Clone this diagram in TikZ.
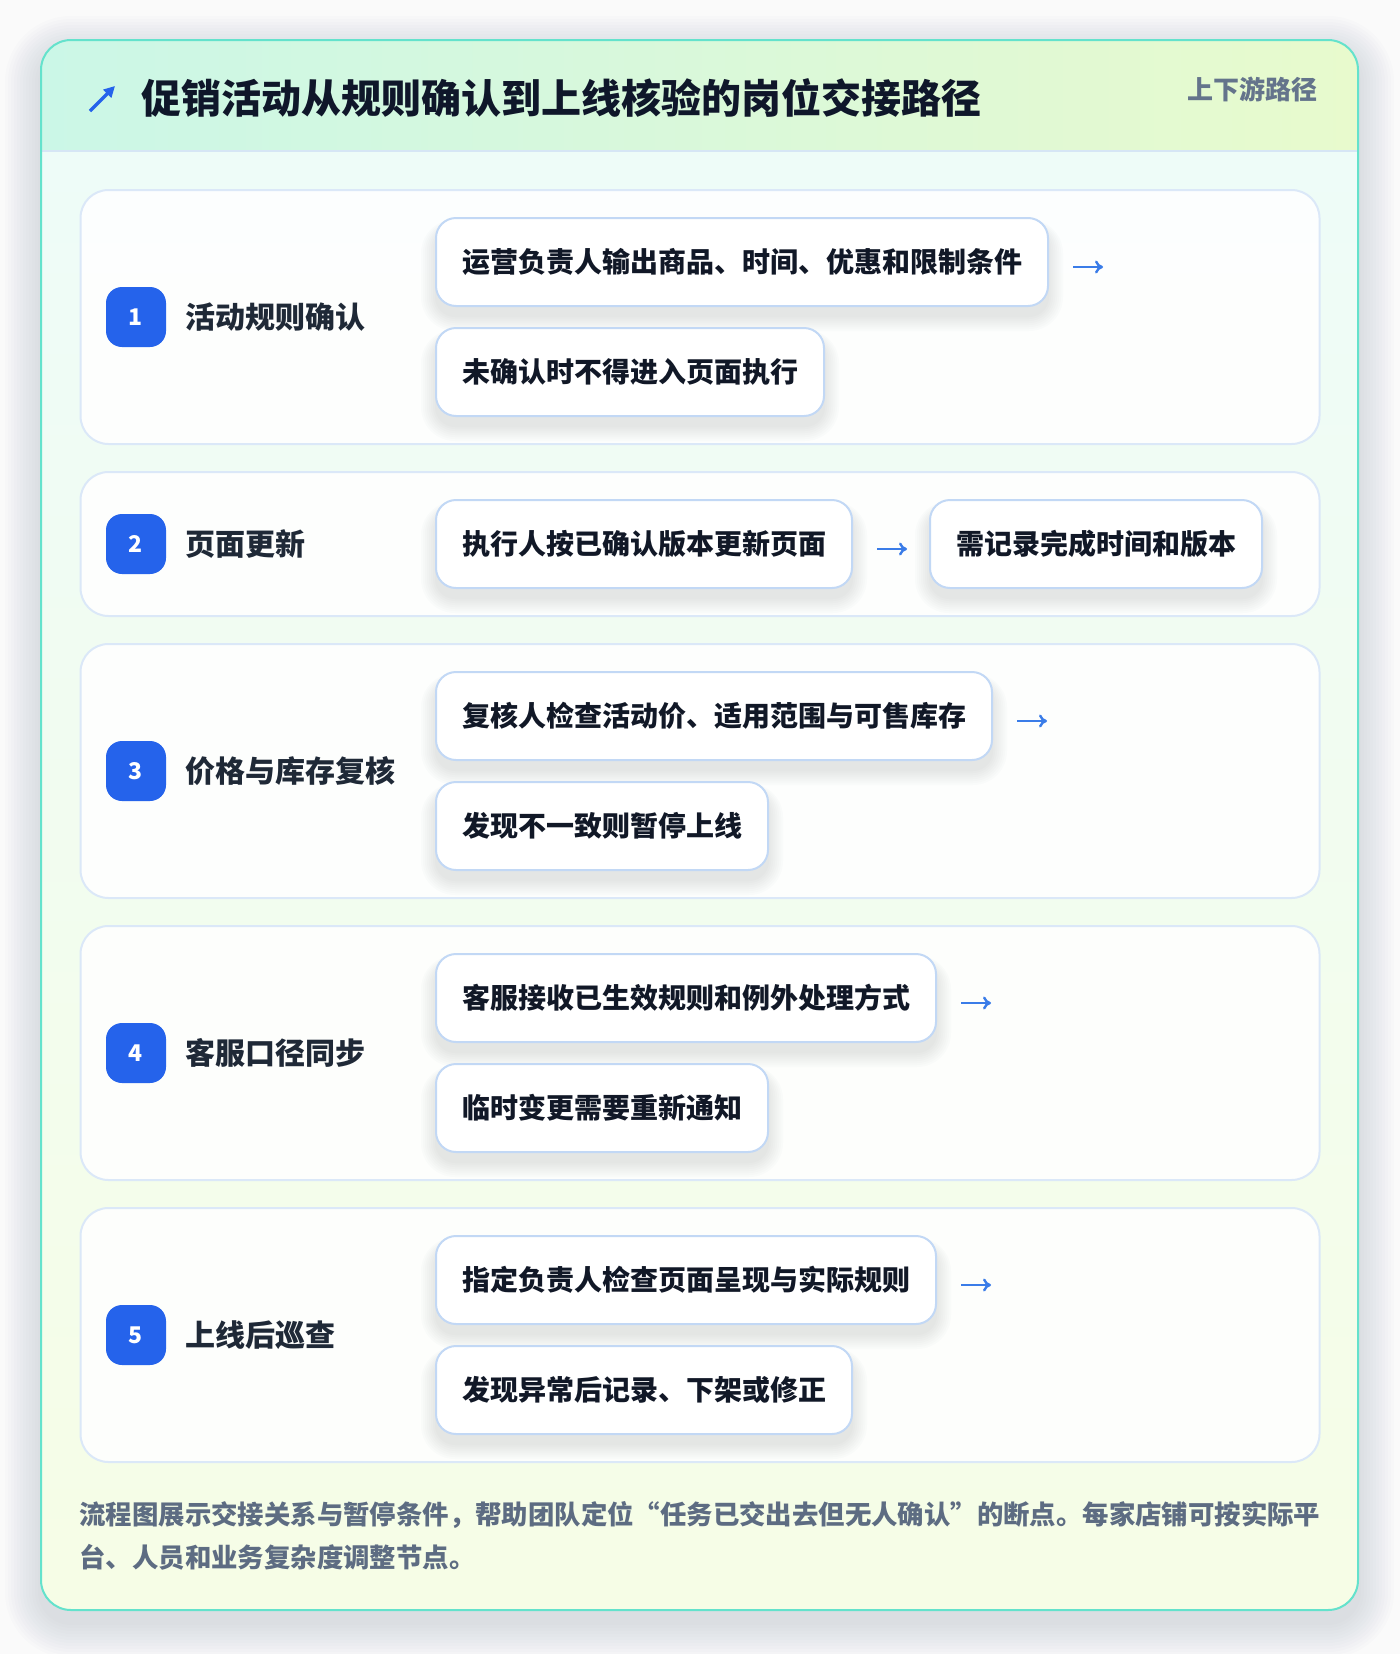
\documentclass[tikz,border=0pt]{standalone}
\usepackage{fontspec}
\setmainfont{Noto Sans CJK SC}
\usetikzlibrary{arrows.meta,calc}
\pgfdeclarelayer{bg}
\pgfdeclarelayer{shd}
\pgfsetlayers{bg,shd,main}
\definecolor{pagebg}{RGB}{250,250,250}
\definecolor{cardborder}{RGB}{100,226,204}
\definecolor{headerleft}{RGB}{203,247,231}
\definecolor{headerright}{RGB}{232,250,205}
\definecolor{headerline}{RGB}{214,230,245}
\definecolor{bodytop}{RGB}{238,252,248}
\definecolor{bodybottom}{RGB}{246,253,230}
\definecolor{titletext}{RGB}{15,23,42}
\definecolor{darktext}{RGB}{17,24,39}
\definecolor{labeltext}{RGB}{31,41,55}
\definecolor{subtext}{RGB}{100,116,139}
\definecolor{foottext}{RGB}{93,108,130}
\definecolor{badgeblue}{RGB}{37,99,235}
\definecolor{arrowblue}{RGB}{58,124,232}
\definecolor{stepborder}{RGB}{219,232,248}
\definecolor{itemborder}{RGB}{194,216,245}
\definecolor{shadowc}{RGB}{60,70,90}
\tikzset{
  stepbox/.style={draw=stepborder, line width=1pt, rounded corners=14pt, fill=white, fill opacity=0.88, minimum width=619.5pt, inner sep=0pt},
  badge/.style={fill=badgeblue, rounded corners=8pt, minimum width=30pt, minimum height=30pt, inner sep=0pt, text=white, font=\fontsize{11.5pt}{13pt}\selectfont\bfseries},
  steplabel/.style={anchor=west, inner sep=0pt, text=labeltext, font=\fontsize{15pt}{17pt}\selectfont\bfseries},
  itembox/.style={anchor=west, draw=itemborder, line width=1pt, rounded corners=10pt, fill=white, minimum height=44pt, inner xsep=13pt, inner ysep=0pt, text=darktext, font=\fontsize{14pt}{16pt}\selectfont\bfseries},
  flowarrow/.style={draw=arrowblue, line width=1.2pt, -{To[length=4pt,width=6.5pt]}},
  foot/.style={anchor=west, inner sep=0pt, text=foottext, font=\fontsize{13.2pt}{15pt}\selectfont\bfseries},
}
\newcommand\itemshadow[1]{%
  \begin{pgfonlayer}{shd}
  \foreach \k in {1,...,8}{%
    \pgfmathsetmacro\rr{9+\k}%
    \pgfmathsetmacro\dd{\k-1}%
    \pgfmathsetmacro\yb{-5-\k+1}%
    \pgfmathsetmacro\yt{-6+\k*0.6}%
    \fill[shadowc, opacity=0.016, rounded corners=\rr pt] ([xshift=-\dd pt, yshift=\yb pt]#1.south west) rectangle ([xshift=\dd pt, yshift=\yt pt]#1.north east);
  }
  \end{pgfonlayer}}
\begin{document}
\begin{tikzpicture}[x=0.5pt,y=-0.5pt]
\useasboundingbox (0,0) rectangle (1400,1654);
\begin{pgfonlayer}{bg}
\fill[pagebg] (0,0) rectangle (1400,1654);
% card shadow
\foreach \k in {1,...,12}{%
  \pgfmathsetmacro\rr{15+\k*1.5}%
  \pgfmathsetmacro\dd{\k*1.5}%
  \fill[shadowc, opacity=0.012, rounded corners=\rr pt] ([xshift=-\dd pt, yshift=-\dd pt-6pt]41pt*0.5+0pt,-1610pt*0.5+0pt) rectangle ([xshift=\dd pt, yshift=\dd pt-6pt]679pt,-20pt);
}
% card
\begin{scope}
  \clip[rounded corners=15pt] (41,40) rectangle (1358,1610);
  \shade[top color=bodytop, bottom color=bodybottom] (41,151) rectangle (1358,1610);
  \shade[left color=headerleft, right color=headerright] (41,40) rectangle (1358,151);
  \draw[headerline, line width=1pt] (41,151) -- (1358,151);
\end{scope}
\draw[cardborder, line width=1pt, rounded corners=15pt] (41,40) rectangle (1358,1610);
% step boxes
\node[stepbox, minimum height=127pt] (s1) at (700,317) {};
\node[stepbox, minimum height=72pt] (s2) at (700,544) {};
\node[stepbox, minimum height=127pt] (s3) at (700,771) {};
\node[stepbox, minimum height=127pt] (s4) at (700,1053) {};
\node[stepbox, minimum height=127pt] (s5) at (700,1335) {};
\end{pgfonlayer}
% header
\coordinate (ta) at (90,111);
\coordinate (tb) at (115,86);
\draw[badgeblue, line width=1.6pt, -{Triangle[length=5.5pt,width=5.5pt]}] (ta) -- (tb);
\node[anchor=west, inner sep=0pt, text=titletext, font=\fontsize{20pt}{22pt}\selectfont\bfseries] (title) at (141,98) {促销活动从规则确认到上线核验的岗位交接路径};
\node[anchor=east, inner sep=0pt, text=subtext, font=\fontsize{13pt}{15pt}\selectfont\bfseries] (sub) at (1318,89) {上下游路径};
% row 1
\node[badge] (b1) at (136,317) {1};
\node[steplabel] (l1) at (185,317) {活动规则确认};
\node[itembox] (a1) at (435,262) {运营负责人输出商品、时间、优惠和限制条件};
\node[itembox] (c1) at (435,372) {未确认时不得进入页面执行};
\coordinate (e1) at ([xshift=27pt,yshift=-2.5pt]a1.east);
\draw[flowarrow] ([xshift=12pt,yshift=-2.5pt]a1.east) -- (e1);
% row 2
\node[badge] (b2) at (136,544) {2};
\node[steplabel] (l2) at (185,544) {页面更新};
\node[itembox] (a2) at (435,544) {执行人按已确认版本更新页面};
\node[itembox] (c2) at (929,544) {需记录完成时间和版本};
\draw[flowarrow, shorten <=12pt, shorten >=11pt] ([yshift=-2.5pt]a2.east) -- ([yshift=-2.5pt]c2.west);
% row 3
\node[badge] (b3) at (136,771) {3};
\node[steplabel] (l3) at (185,771) {价格与库存复核};
\node[itembox] (a3) at (435,716) {复核人检查活动价、适用范围与可售库存};
\node[itembox] (c3) at (435,826) {发现不一致则暂停上线};
\coordinate (e3) at ([xshift=27pt,yshift=-2.5pt]a3.east);
\draw[flowarrow] ([xshift=12pt,yshift=-2.5pt]a3.east) -- (e3);
% row 4
\node[badge] (b4) at (136,1053) {4};
\node[steplabel] (l4) at (185,1053) {客服口径同步};
\node[itembox] (a4) at (435,998) {客服接收已生效规则和例外处理方式};
\node[itembox] (c4) at (435,1108) {临时变更需要重新通知};
\coordinate (e4) at ([xshift=27pt,yshift=-2.5pt]a4.east);
\draw[flowarrow] ([xshift=12pt,yshift=-2.5pt]a4.east) -- (e4);
% row 5
\node[badge] (b5) at (136,1335) {5};
\node[steplabel] (l5) at (185,1335) {上线后巡查};
\node[itembox] (a5) at (435,1280) {指定负责人检查页面呈现与实际规则};
\node[itembox] (c5) at (435,1390) {发现异常后记录、下架或修正};
\coordinate (e5) at ([xshift=27pt,yshift=-2.5pt]a5.east);
\draw[flowarrow] ([xshift=12pt,yshift=-2.5pt]a5.east) -- (e5);
% shadows of item boxes
\itemshadow{a1}\itemshadow{c1}\itemshadow{a2}\itemshadow{c2}\itemshadow{a3}\itemshadow{c3}
\itemshadow{a4}\itemshadow{c4}\itemshadow{a5}\itemshadow{c5}
% footer
\node[foot] (f1) at (79,1515) {流程图展示交接关系与暂停条件，帮助团队定位“任务已交出去但无人确认”的断点。每家店铺可按实际平};
\node[foot] (f2) at (79,1557) {台、人员和业务复杂度调整节点。};
\end{tikzpicture}
\end{document}
